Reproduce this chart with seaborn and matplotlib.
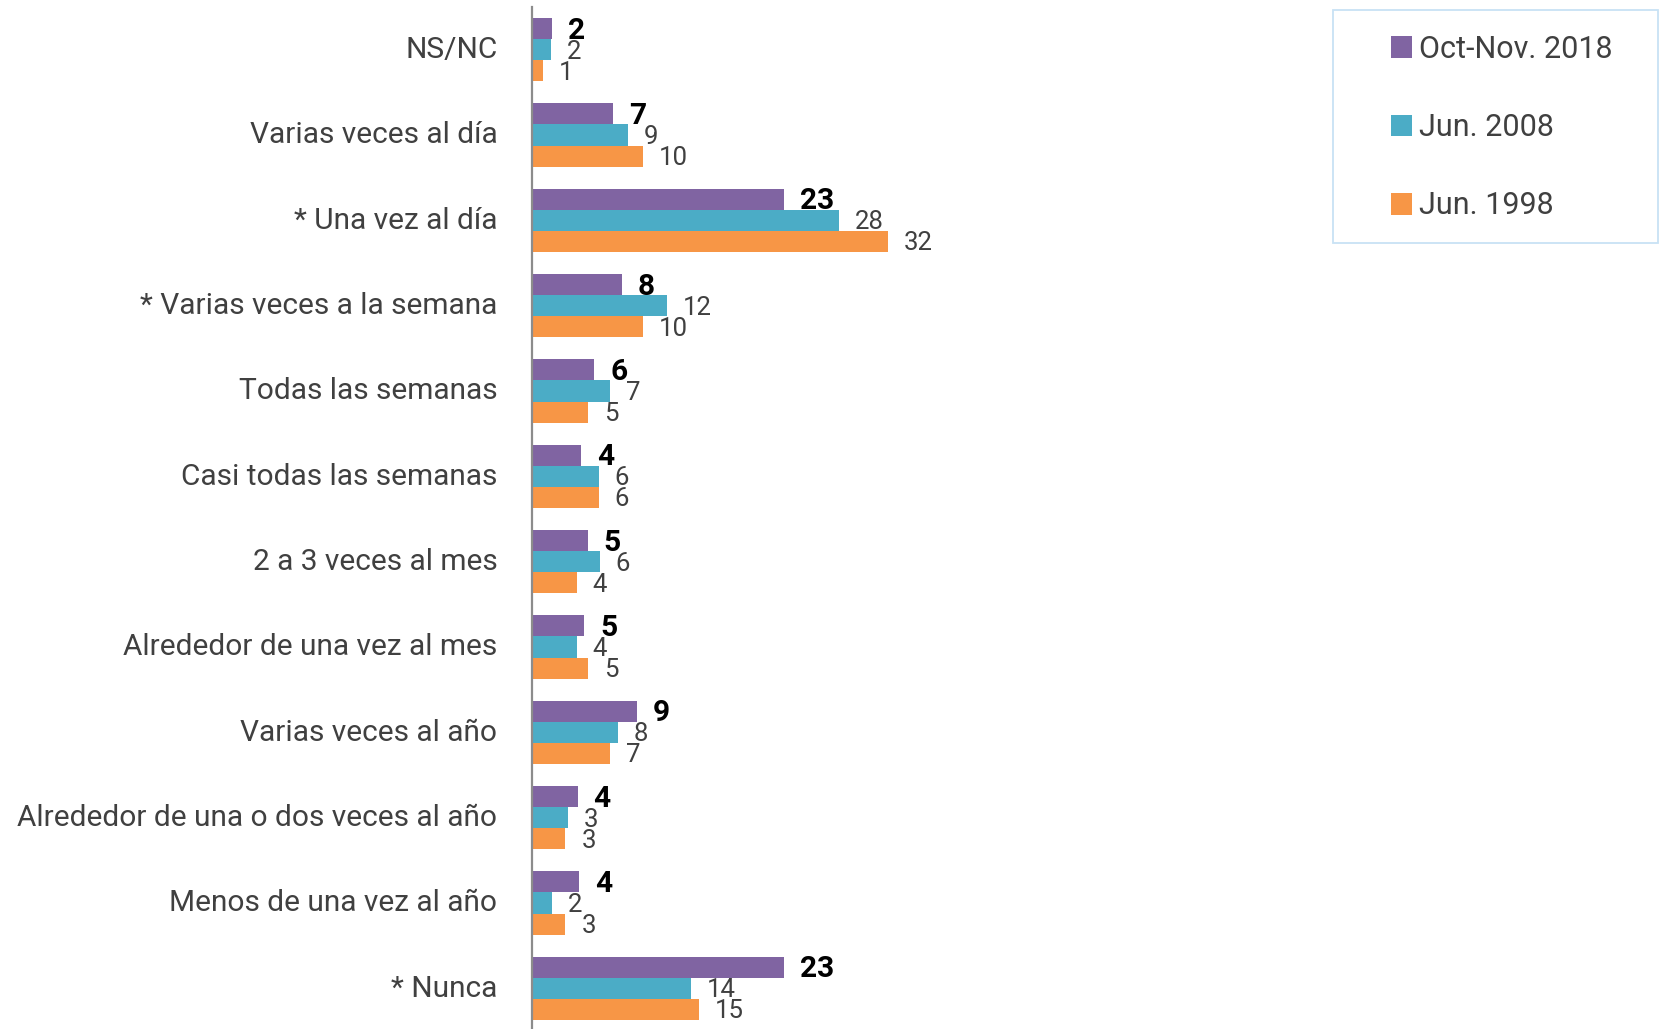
import numpy as np
import pandas as pd
import matplotlib
matplotlib.use("Agg")
import matplotlib.pyplot as plt
import matplotlib.transforms as mtransforms
import seaborn as sns
from matplotlib.patches import Patch, Rectangle

categories = ["NS/NC", "Varias veces al día", "* Una vez al día",
              "* Varias veces a la semana", "Todas las semanas",
              "Casi todas las semanas", "2 a 3 veces al mes",
              "Alrededor de una vez al mes", "Varias veces al año",
              "Alrededor de una o dos veces al año",
              "Menos de una vez al año", "* Nunca"]
series = ["Oct-Nov. 2018", "Jun. 2008", "Jun. 1998"]
oct_nov_2018 = [1.8, 7.3, 22.65, 8.1, 5.6, 4.4, 5.0, 4.7, 9.4, 4.1, 4.2, 22.65]
jun_2008 = [1.7, 8.6, 27.6, 12.1, 7.0, 6.0, 6.1, 4.0, 7.7, 3.2, 1.8, 14.3]
jun_1998 = [1.0, 10.0, 32.0, 10.0, 5.0, 6.0, 4.0, 5.0, 7.0, 3.0, 3.0, 15.0]
colors = ["#8064A2", "#4BACC6", "#F79646"]

sns.set_style("white")
plt.rcParams["font.family"] = ["Roboto", "DejaVu Sans"]

df = pd.DataFrame({
    "categoria": categories * 3,
    "serie": [series[0]] * 12 + [series[1]] * 12 + [series[2]] * 12,
    "valor": oct_nov_2018 + jun_2008 + jun_1998,
})

W, H = 1660, 1029
fig = plt.figure(figsize=(W / 100, H / 100), dpi=100)
ax = fig.add_axes([532 / W, 1 - 1031 / H, 768 / W, 1024 / H])

sns.barplot(data=df, y="categoria", x="valor", hue="serie", order=categories,
            hue_order=series, palette=colors, orient="h", width=0.74,
            linewidth=0, saturation=1, legend=False, ax=ax)

ax.set_xlim(0, 768 / 11.125)
ax.set_ylim(11.5, -0.5)
ax.set_xlabel("")
ax.set_ylabel("")
ax.set_xticks([])

for sp in ["top", "right", "bottom"]:
    ax.spines[sp].set_visible(False)
ax.spines["left"].set_color("#8c8c8c")
ax.spines["left"].set_linewidth(1.6)

ax.set_yticks(np.arange(len(categories)))
ax.set_yticklabels(categories)
ax.set_yticks(np.arange(-0.5, len(categories), 1.0), minor=True)
ax.tick_params(axis="y", which="major", length=0, pad=25, labelsize=21.5,
               labelcolor="#404040")
ax.tick_params(axis="y", which="minor", length=8, width=1.6, color="#8c8c8c",
               direction="out")
shift = mtransforms.ScaledTranslation(0, 2.8 / 100, fig.dpi_scale_trans)
for lab in ax.get_yticklabels():
    lab.set_transform(lab.get_transform() + shift)

vals = [oct_nov_2018, jun_2008, jun_1998]
for i, cont in enumerate(ax.containers):
    labs = [f"{int(round(v))}" for v in vals[i]]
    if i == 0:
        texts = ax.bar_label(cont, labels=labs, padding=11.5, fontsize=21.5,
                             fontweight="bold", color="black")
    else:
        texts = ax.bar_label(cont, labels=labs, padding=11.5, fontsize=18.5,
                             color="#404040")
    for t in texts:
        t.set_va("center")
        x0, y0 = t.xyann
        t.xyann = (x0, y0 - 1.5)

handles = [Patch(facecolor=c, edgecolor="none") for c in colors]
fig.legend(handles, series, loc="upper left",
           bbox_to_anchor=(1391 / W, 1 - 34.5 / H), frameon=False,
           fontsize=22, labelcolor="#404040", handlelength=0.7,
           handleheight=0.7, handletextpad=0.2, labelspacing=1.62,
           borderpad=0, borderaxespad=0)

fig.patches.append(Rectangle((1333 / W, 1 - 243 / H), 325 / W, 233 / H,
                             transform=fig.transFigure, fill=False,
                             edgecolor="#c8e2f5", linewidth=1.3))

fig.savefig("out.png", dpi=100)
